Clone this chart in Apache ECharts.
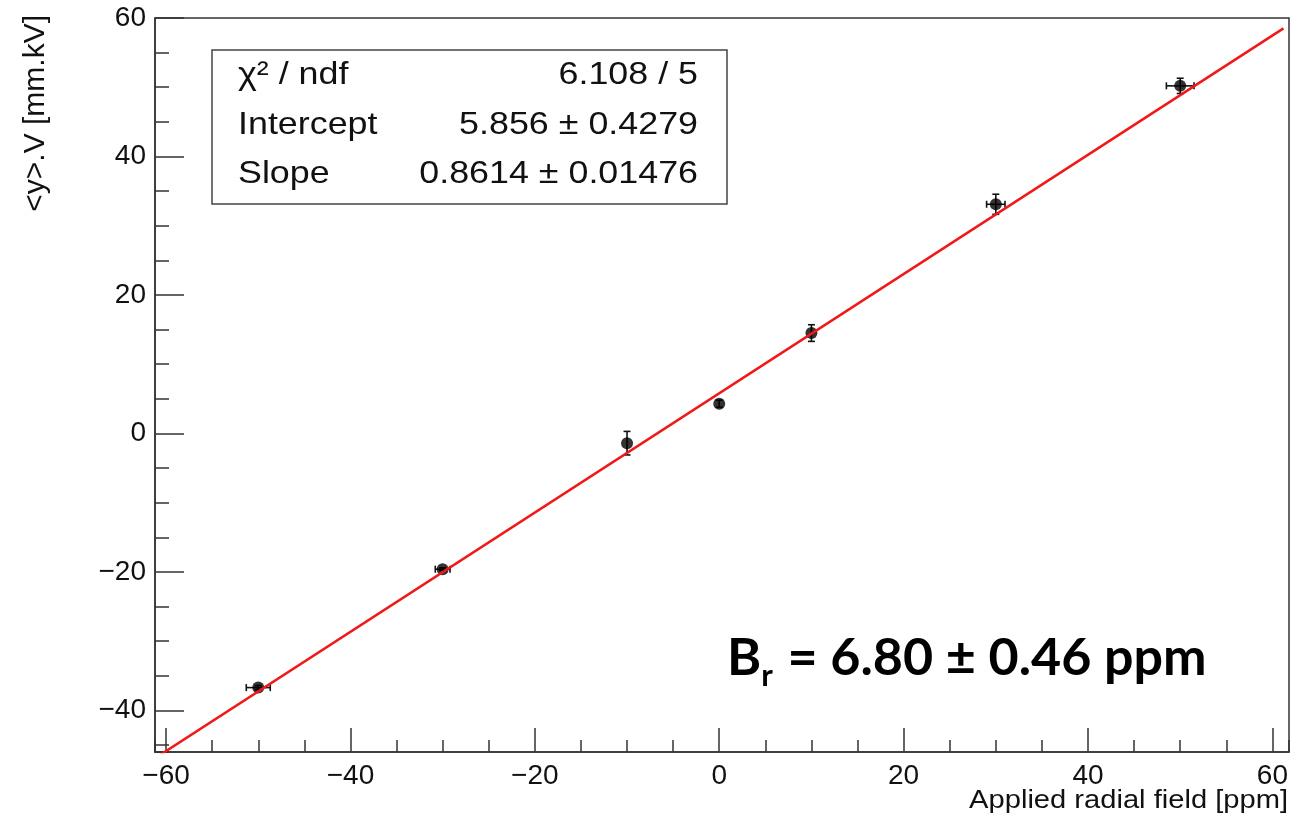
<!DOCTYPE html>
<html>
<head>
<meta charset="utf-8">
<script src="https://cdn.jsdelivr.net/npm/echarts@6/dist/echarts.min.js"></script>
<style>html,body{margin:0;padding:0;background:#fff}#c{width:1304px;height:819px}</style>
</head>
<body>
<div id="c"></div>
<script>
// ---- data ----
const xValues = [-50, -30, -10, 0, 10, 30, 50];
const yValues = [-36.7, -19.6, -1.4, 4.3, 14.5, 33.1, 50.2];
const xErrors = [1.3, 0.8, 0, 0, 0, 1.0, 1.5];
const yErrors = [0.3, 0.2, 1.7, 0.5, 1.2, 1.45, 1.1];
const fitX = [-61.2, 61.2];
const fitY = [-46.9, 58.5];
const statNames = ['χ² / ndf', 'Intercept', 'Slope'];
const statValues = ['6.108 / 5', '5.856 ± 0.4279', '0.8614 ± 0.01476'];
const xTitle = 'Applied radial field [ppm]';
const yTitle = '<y>.V [mm.kV]';
const xRange = [-61.2, 61.8];
const yRange = [-46, 60];

const FONT = '"Liberation Sans", Arial, sans-serif';
const AXC = '#333';
const SX = 1.12; // horizontal stretch seen in the reference text

const pts = xValues.map((x, i) => [x, yValues[i], xErrors[i], yErrors[i]]);
const fitData = fitX.map((x, i) => [x, fitY[i]]);
const fmt = v => String(Math.round(v * 1000) / 1000).replace('-', '\u2212');

const chart = echarts.init(document.getElementById('c'), null, {renderer: 'canvas'});

const baseAxis = (min, max) => ({
  type: 'value', min: min, max: max, splitLine: {show: false}, offset: 0
});

const statText = (x, y, t, align) => ({
  type: 'text', x: x, y: y, scaleX: SX, z: 11,
  style: {text: t, font: '32px ' + FONT, fill: '#111', textAlign: align, textVerticalAlign: 'middle'}
});

const option = {
  animation: false,
  backgroundColor: '#fff',
  grid: {left: 155, right: 15, top: 18, bottom: 67, show: true, borderColor: AXC, borderWidth: 1.5, backgroundColor: 'transparent'},
  xAxis: [
    Object.assign(baseAxis(xRange[0], xRange[1]), {
      position: 'bottom',
      splitNumber: 6,
      axisLine: {show: true, onZero: false, lineStyle: {color: AXC, width: 1.5}},
      axisTick: {show: true, inside: true, length: 24, lineStyle: {color: AXC, width: 1.5}},
      axisLabel: {show: true, margin: 10, color: '#111', fontSize: 28, fontFamily: FONT, formatter: fmt, showMinLabel: false, showMaxLabel: false}
    }),
    Object.assign(baseAxis(xRange[0], xRange[1]), {
      position: 'bottom',
      splitNumber: 24,
      axisLine: {show: false, onZero: false},
      axisTick: {show: true, inside: true, length: 12, lineStyle: {color: AXC, width: 1.5}},
      axisLabel: {show: false}
    })
  ],
  yAxis: [
    Object.assign(baseAxis(yRange[0], yRange[1]), {
      position: 'left',
      splitNumber: 5,
      axisLine: {show: true, onZero: false, lineStyle: {color: AXC, width: 1.5}},
      axisTick: {show: true, inside: true, length: 29, lineStyle: {color: AXC, width: 1.5}},
      axisLabel: {show: true, margin: 9, color: '#111', fontSize: 28, fontFamily: FONT, formatter: fmt, showMinLabel: false, showMaxLabel: true}
    }),
    Object.assign(baseAxis(yRange[0], yRange[1]), {
      position: 'left',
      splitNumber: 21,
      axisLine: {show: false, onZero: false},
      axisTick: {show: true, inside: true, length: 14, lineStyle: {color: AXC, width: 1.5}},
      axisLabel: {show: false}
    })
  ],
  series: [
    {
      type: 'custom',
      xAxisIndex: 0, yAxisIndex: 0,
      data: pts,
      encode: {x: 0, y: 1},
      z: 2,
      renderItem: function (params, api) {
        const x = api.value(0), y = api.value(1), ex = api.value(2), ey = api.value(3);
        const children = [];
        const cap = 3.5;
        const st = {stroke: '#111', lineWidth: 1.6};
        if (ey > 0) {
          const t = api.coord([x, y + ey]), b = api.coord([x, y - ey]);
          children.push({type: 'line', shape: {x1: t[0], y1: t[1], x2: b[0], y2: b[1]}, style: st});
          children.push({type: 'line', shape: {x1: t[0] - cap, y1: t[1], x2: t[0] + cap, y2: t[1]}, style: st});
          children.push({type: 'line', shape: {x1: b[0] - cap, y1: b[1], x2: b[0] + cap, y2: b[1]}, style: st});
        }
        if (ex > 0) {
          const l = api.coord([x - ex, y]), r = api.coord([x + ex, y]);
          children.push({type: 'line', shape: {x1: l[0], y1: l[1], x2: r[0], y2: r[1]}, style: st});
          children.push({type: 'line', shape: {x1: l[0], y1: l[1] - cap, x2: l[0], y2: l[1] + cap}, style: st});
          children.push({type: 'line', shape: {x1: r[0], y1: r[1] - cap, x2: r[0], y2: r[1] + cap}, style: st});
        }
        return {type: 'group', children: children};
      }
    },
    {
      type: 'scatter',
      xAxisIndex: 0, yAxisIndex: 0,
      data: pts.map(p => [p[0], p[1]]),
      symbol: 'circle', symbolSize: 12,
      itemStyle: {color: '#000'},
      z: 3
    },
    {
      type: 'line',
      xAxisIndex: 0, yAxisIndex: 0,
      data: fitData,
      symbol: 'none',
      clip: true,
      lineStyle: {color: '#f01818', width: 2.5},
      z: 4
    }
  ],
  graphic: [
    {type: 'rect', shape: {x: 212, y: 50, width: 515, height: 154}, style: {fill: '#fff', stroke: '#444', lineWidth: 1.5}, z: 10},
    statText(238, 75, statNames[0], 'left'),
    statText(238, 125, statNames[1], 'left'),
    statText(238, 174, statNames[2], 'left'),
    statText(698, 75, statValues[0], 'right'),
    statText(698, 125, statValues[1], 'right'),
    statText(698, 174, statValues[2], 'right'),
    {type: 'text', x: 1288, y: 801, scaleX: SX, z: 11, style: {text: xTitle, font: '26px ' + FONT, fill: '#111', textAlign: 'right', textVerticalAlign: 'middle'}},
    {type: 'text', x: 36, y: 15, rotation: Math.PI / 2, z: 11, style: {text: yTitle, font: '30px ' + FONT, fill: '#111', textAlign: 'right', textVerticalAlign: 'middle'}},
    {type: 'text', x: 727, y: 658, z: 11, style: {
      text: '{a|B}{s|r}{a| = 6.80 ± 0.46 ppm}',
      textVerticalAlign: 'middle',
      rich: {
        a: {fontFamily: 'Lato, "Open Sans", sans-serif', fontWeight: 'bold', fontSize: 52, color: '#000', lineHeight: 66, verticalAlign: 'middle'},
        s: {fontFamily: 'Lato, "Open Sans", sans-serif', fontWeight: 'bold', fontSize: 31, color: '#000', lineHeight: 66, verticalAlign: 'bottom', padding: [0, 2, 0, 0]}
      }
    }}
  ]
};
chart.setOption(option);
</script>
</body>
</html>
